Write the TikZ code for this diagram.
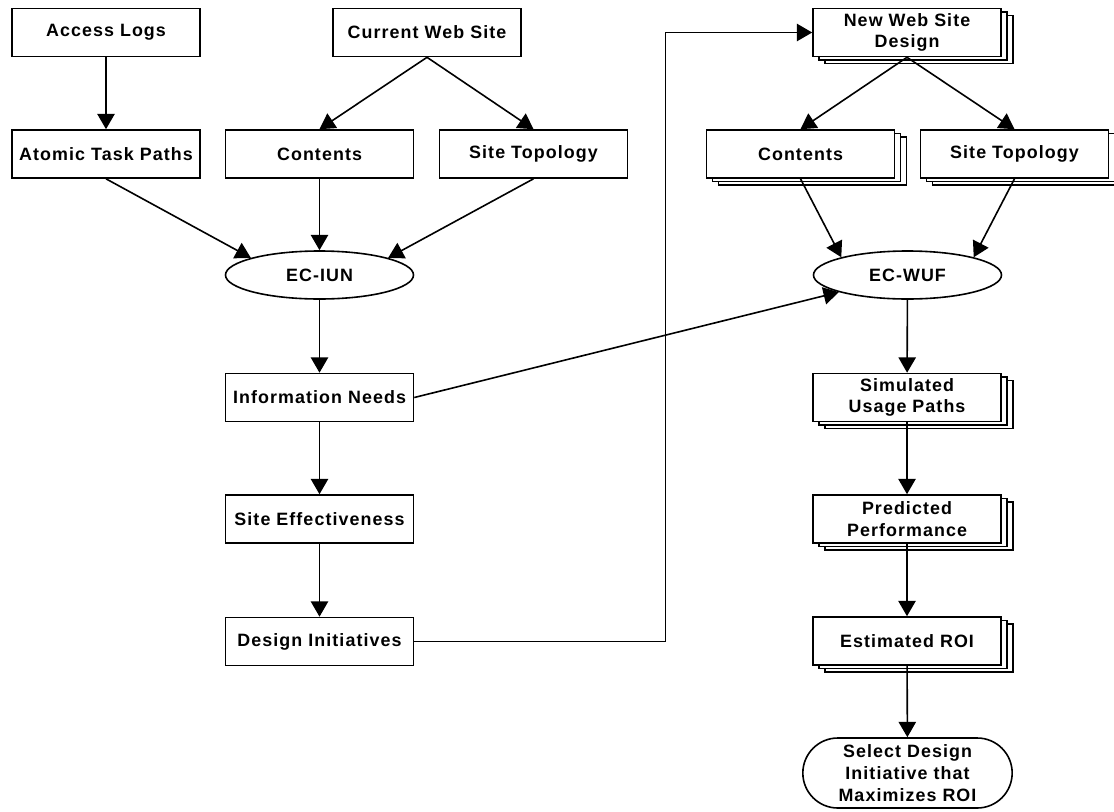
\documentclass[tikz,border=0pt]{standalone}
\usepackage{fontspec}
\setmainfont{Liberation Sans}[LetterSpace=6]
\usetikzlibrary{arrows.meta,shapes.geometric,shapes.misc,shadows}
\tikzset{
  box/.style={draw,fill=white,line width=1.2pt,minimum width=141pt,minimum height=36pt,
    inner sep=2pt,align=center,font=\bfseries\fontsize{13.4}{16.3}\selectfont},
  stack/.style={box,
    copy shadow={shadow xshift=9pt,shadow yshift=-5.2pt,draw=black,fill=white},
    copy shadow={shadow xshift=4.5pt,shadow yshift=-2.6pt,draw=black,fill=white}},
  oval/.style={box,ellipse},
  term/.style={box,rounded rectangle,minimum width=161pt,minimum height=52.5pt}
}
\begin{document}
\begin{tikzpicture}[x=0.75pt,y=-0.75pt,>={Triangle[width=13pt,length=11.5pt]}]
\useasboundingbox (0,0) rectangle (1114,811);

\node[box] (access) at (106,32.5) {Access Logs};
\node[box] (current) at (427,32.5) {Current Web Site};
\node[box] (atomic) at (106,154) {Atomic Task Paths};
\node[box] (contl) at (319.5,154) {Contents};
\node[box] (topol) at (533.5,154) {Site Topology};
\node[oval] (ecuin) at (319.5,275) {EC-IUN};
\node[box] (needs) at (319.5,397.5) {Information Needs};
\node[box] (effect) at (319.5,519) {Site Effectiveness};
\node[box] (inits) at (319.5,641.5) {Design Initiatives};

\node[stack] (newsite) at (907,32.5) {New Web Site\\Design};
\node[stack] (contr) at (800.5,154) {Contents};
\node[stack] (topor) at (1014.5,154) {Site Topology};
\node[oval] (ecwuf) at (907.5,275) {EC-WUF};
\node[stack] (usage) at (907,397.5) {Simulated\\Usage Paths};
\node[stack] (perf) at (907,519) {Predicted\\Performance};
\node[stack] (roi) at (907,641) {Estimated ROI};
\node[term] (select) at (907.5,773) {Select Design\\Initiative that\\Maximizes ROI};

\draw[->,line width=1.2pt] (access) -- (atomic);
\draw[->,line width=1.2pt] (current.south) -- (contl.north);
\draw[->,line width=1.2pt] (current.south) -- (topol.north);
\draw[->,line width=1.2pt] (atomic.south) -- (ecuin.166);
\draw[->,line width=1.2pt] (contl) -- (ecuin);
\draw[->,line width=1.2pt] (topol.south) -- (ecuin.14);
\draw[->,line width=1.2pt] (ecuin) -- (needs);
\draw[->,line width=1.2pt] (needs) -- (effect);
\draw[->,line width=1.2pt] (effect) -- (inits);
\draw[->,line width=1.2pt] (inits.east) -- ++(251,0) |- (newsite.west);

\draw[->,line width=1.2pt] (newsite.south) -- (contr.north);
\draw[->,line width=1.2pt] (newsite.south) -- (topor.north);
\draw[->,line width=1.2pt] (contr.south) -- (ecwuf.165);
\draw[->,line width=1.2pt] (topor.south) -- (ecwuf.15);
\draw[->,line width=1.2pt] (needs.east) -- (ecwuf.194);
\draw[->,line width=1.2pt] (ecwuf) -- (usage);
\draw[->,line width=1.2pt] (usage) -- (perf);
\draw[->,line width=1.2pt] (perf) -- (roi);
\draw[->,line width=1.2pt] (roi) -- (select);
\end{tikzpicture}
\end{document}
